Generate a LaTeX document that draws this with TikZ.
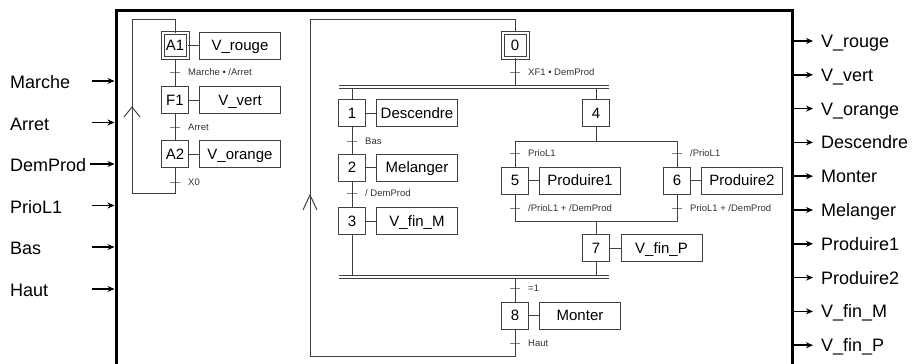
\documentclass[tikz,border=0pt]{standalone}
\usepackage{fontspec}
\setmainfont{Liberation Sans}
\usetikzlibrary{arrows.meta,positioning}

\begin{document}
\begin{tikzpicture}[
  x=1pt, y=-1pt,
  >={Stealth[length=7pt,width=6pt]},
  lien/.style={black!75, line width=1pt},
  etape/.style={
    draw,
    black!75,
    line width=1pt,
    minimum width=27pt,
    minimum height=27pt,
    inner sep=0pt,
    text=black,
    font=\fontsize{15}{18}\selectfont,
    text height=10.7pt,
    text depth=0pt
  },
  initiale/.style={etape, double, double distance=2pt, minimum width=25pt, minimum height=25pt},
  action/.style={etape, minimum width=81pt},
  trans/.style={draw, black!75, line width=1pt, minimum width=10pt, minimum height=0pt, inner sep=0pt, outer sep=0pt},
  tlab/.style={font=\fontsize{9.5}{11}\selectfont, text=black!80, inner sep=0pt, text height=6.8pt, text depth=0pt, label distance=8pt},
  entree/.style={anchor=west, font=\fontsize{18}{22}\selectfont, inner sep=0pt, text height=13pt, text depth=0pt},
  sortie/.style={entree, inner xsep=8pt},
  every edge/.style={
    draw,
    ->,
    line width=1.5pt,
    black
  }
]
  \useasboundingbox (0,0) rectangle (914,364);

  % Cadre de l'automate
  \draw[line width=3pt] (116,364) -- (116,10) -- (792,10) -- (792,364);
  \coordinate (cadreG) at (116,10);
  \coordinate (cadreD) at (792,10);

  % Entrees
  \node[entree] (Marche) at (10,82)    {Marche};
  \node[entree] (Arret) at (10,123.5)  {Arret};
  \node[entree] (DemProd) at (10,165)  {DemProd};
  \node[entree] (PrioL) at (10,206.5)  {PrioL1};
  \node[entree] (Bas) at (10,248)      {Bas};
  \node[entree] (Haut) at (10,290)     {Haut};

  \coordinate (iMarche) at (92,81);
  \coordinate (iArret) at (92,122.5);
  \coordinate (iDemProd) at (90,164);
  \coordinate (iPrioL) at (92,205.5);
  \coordinate (iBas) at (92,247);
  \coordinate (iHaut) at (92,289);

  \path (iMarche) edge[shorten >=1.5pt] (iMarche -| cadreG);
  \path (iArret) edge[shorten >=1.5pt] (iArret -| cadreG);
  \path (iDemProd) edge[shorten >=1.5pt] (iDemProd -| cadreG);
  \path (iPrioL) edge[shorten >=1.5pt] (iPrioL -| cadreG);
  \path (iBas) edge[shorten >=1.5pt] (iBas -| cadreG);
  \path (iHaut) edge[shorten >=1.5pt] (iHaut -| cadreG);

  % Sorties
  \node[sortie] (oVrouge) at (813,41)      {V\_rouge};
  \node[sortie] (oVvert) at (813,74.8)     {V\_vert};
  \node[sortie] (oVorange) at (813,108.6)  {V\_orange};
  \node[sortie] (oDesc) at (813,142.4)     {Descendre};
  \node[sortie] (oMont) at (813,176.2)     {Monter};
  \node[sortie] (oMel) at (813,210)        {Melanger};
  \node[sortie] (oProdA) at (813,243.8)    {Produire1};
  \node[sortie] (oProdB) at (813,277.6)    {Produire2};
  \node[sortie] (oFinM) at (813,311.4)     {V\_fin\_M};
  \node[sortie] (oFinP) at (813,345.2)     {V\_fin\_P};

  \path (oVrouge -| cadreD) edge (oVrouge);
  \path (oVvert -| cadreD) edge (oVvert);
  \path (oVorange -| cadreD) edge (oVorange);
  \path (oDesc -| cadreD) edge (oDesc);
  \path (oMont -| cadreD) edge (oMont);
  \path (oMel -| cadreD) edge (oMel);
  \path (oProdA -| cadreD) edge (oProdA);
  \path (oProdB -| cadreD) edge (oProdB);
  \path (oFinM -| cadreD) edge (oFinM);
  \path (oFinP -| cadreD) edge (oFinP);

  % Grafcet des voyants
  \node[initiale] (A1) at (175,45.5) {A1};
  \node[action] (Vrouge) at (240,45.5) {V\_rouge};
  \node[trans, label={[tlab]right:Marche • /Arret}] (tA1) at (175,72) {};
  \node[etape] (F1) at (175,100) {F1};
  \node[action] (Vvert) at (240,100) {V\_vert};
  \node[trans, label={[tlab]right:Arret}] (tF1) at (175,127) {};
  \node[etape] (A2) at (175,154) {A2};
  \node[action] (Vorange) at (240,154) {V\_orange};
  \node[trans, label={[tlab]right:X0}] (tA2) at (175,182) {};

  \coordinate (retG1) at (132,193);
  \coordinate (retG2) at (132,19);

  \draw[lien] (A1) -- (Vrouge);
  \draw[lien] (F1) -- (Vvert);
  \draw[lien] (A2) -- (Vorange);
  \draw[lien] (A1) -- (F1);
  \draw[lien] (F1) -- (A2);
  \draw[lien] (A2.south) |- (retG1) -- (retG2) -| (A1.north);
  \draw[lien] (124,117) -- (132,107) -- (140,117);

  % Grafcet de production
  \node[initiale] (S0) at (515,45) {0};
  \node[trans, label={[tlab]right:XF1 • DemProd}] (tS0) at (515,72) {};

  \coordinate (ET1) at (339,86.5);
  \coordinate (ET2) at (609,86.5);

  \node[etape] (S1) at (352,113) {1};
  \node[action] (Desc) at (417,113) {Descendre};
  \node[trans, label={[tlab]right:Bas}] (tS1) at (352,141) {};
  \node[etape] (S2) at (352,167.5) {2};
  \node[action] (Mel) at (417,167.5) {Melanger};
  \node[trans, label={[tlab]right:/ DemProd}] (tS2) at (352,193) {};
  \node[etape] (S3) at (352,221) {3};
  \node[action] (FinM) at (417,221) {V\_fin\_M};

  \node[etape] (S4) at (596,113) {4};
  \coordinate (OU1) at (515,141);
  \coordinate (OU2) at (677,141);
  \node[trans, label={[tlab]right:PrioL1}] (tS4a) at (515,153) {};
  \node[trans, label={[tlab]right:/PrioL1}] (tS4b) at (677,153) {};
  \node[etape] (S5) at (515,180.5) {5};
  \node[action] (ProdA) at (580,180.5) {Produire1};
  \node[etape] (S6) at (677,180.5) {6};
  \node[action] (ProdB) at (742,180.5) {Produire2};
  \node[trans, label={[tlab]right:/PrioL1 + /DemProd}] (tS5) at (515,208) {};
  \node[trans, label={[tlab]right:PrioL1 + /DemProd}] (tS6) at (677,208) {};
  \coordinate (OU3) at (515,221);
  \coordinate (OU4) at (677,221);
  \node[etape] (S7) at (596,248) {7};
  \node[action] (FinP) at (661.5,248) {V\_fin\_P};

  \coordinate (ET3) at (339,276.5);
  \coordinate (ET4) at (609,276.5);

  \node[trans, label={[tlab]right:=1}] (tET) at (515,288) {};
  \node[etape] (S8) at (515,315.5) {8};
  \node[action] (Mont) at (580,315.5) {Monter};
  \node[trans, label={[tlab]right:Haut}] (tS8) at (515,343) {};

  \coordinate (retD1) at (310,356);
  \coordinate (retD2) at (310,19);

  % Actions
  \draw[lien] (S1) -- (Desc);
  \draw[lien] (S2) -- (Mel);
  \draw[lien] (S3) -- (FinM);
  \draw[lien] (S5) -- (ProdA);
  \draw[lien] (S6) -- (ProdB);
  \draw[lien] (S7) -- (FinP);
  \draw[lien] (S8) -- (Mont);

  % Liaisons
  \draw[lien] (S0) -- (S0 |- ET1);
  \draw[lien] (S1 |- ET1) -- (S1);
  \draw[lien] (S4 |- ET1) -- (S4);
  \draw[lien] (S1) -- (S2);
  \draw[lien] (S2) -- (S3);
  \draw[lien] (S3) -- (S3 |- ET3);
  \draw[lien] (S4) -- (S4 |- OU1);
  \draw[lien] (S5) |- (OU3) -| (S6);
  \draw[lien] (S5) |- (OU1) -| (S6);
  \draw[lien] (S7 |- OU3) -- (S7);
  \draw[lien] (S7) -- (S7 |- ET3);
  \draw[lien] (S8 |- ET3) -- (S8);
  \draw[lien] (S8.south) |- (retD1) -- (retD2) -| (S0.north);
  \draw[lien] (303,210) -- (310,195) -- (317,210);

  % Doubles traits
  \draw[lien, double, double distance=2pt] (ET1) -- (ET2);
  \draw[lien, double, double distance=2pt] (ET3) -- (ET4);

\end{tikzpicture}
\end{document}
